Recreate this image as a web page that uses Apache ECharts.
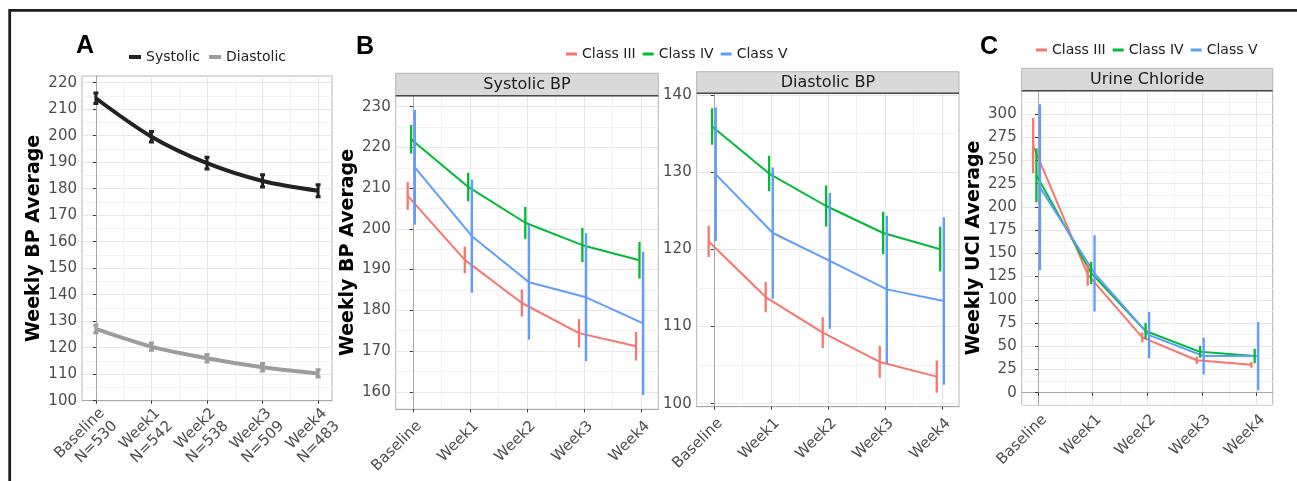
<!DOCTYPE html>
<html>
<head>
<meta charset="utf-8">
<title>Weekly blood pressure and urine chloride</title>
<script src="https://cdn.jsdelivr.net/npm/echarts@6.0.0/dist/echarts.min.js"></script>
<style>
  html, body { margin: 0; padding: 0; background: #ffffff; }
  #chart { width: 1297px; height: 481px; }
</style>
</head>
<body>
<div id="chart"></div>
<script>
// ---- data ----
const categories = ['Baseline', 'Week1', 'Week2', 'Week3', 'Week4'];
const sampleSizes = ['N=530', 'N=542', 'N=538', 'N=509', 'N=483'];
const classNames = ['Class III', 'Class IV', 'Class V'];

// A: whole cohort
const systolicMean = [214.1, 199.6, 189.6, 182.9, 179.2];
const systolicErr = [2.0, 2.0, 2.2, 2.3, 2.3];
const diastolicMean = [127.1, 120.4, 116.0, 112.6, 110.3];
const diastolicErr = [1.5, 1.4, 1.4, 1.4, 1.4];

// B: systolic BP by class
const sysClassIII = [208.1, 192.4, 181.8, 174.4, 171.2];
const sysClassIIIErr = [3.4, 3.3, 3.3, 3.5, 3.5];
const sysClassIV = [222.0, 210.3, 201.5, 196.0, 192.3];
const sysClassIVErr = [3.5, 3.5, 3.9, 4.2, 4.5];
const sysClassV = [215.1, 198.2, 186.9, 183.2, 176.8];
const sysClassVErr = [14.1, 13.9, 14.1, 15.7, 17.6];

// B: diastolic BP by class
const diaClassIII = [121.0, 113.8, 109.2, 105.4, 103.5];
const diaClassIIIErr = [2.0, 1.95, 2.0, 2.05, 2.1];
const diaClassIV = [135.9, 129.8, 125.6, 122.1, 120.0];
const diaClassIVErr = [2.35, 2.3, 2.65, 2.75, 2.9];
const diaClassV = [129.7, 122.1, 118.5, 114.8, 113.3];
const diaClassVErr = [8.65, 8.5, 8.8, 9.55, 10.85];

// C: urine chloride by class
const uclClassIII = [266.0, 127.0, 59.6, 35.0, 30.0];
const uclClassIIIErr = [29.5, 12.0, 5.3, 4.0, 3.0];
const uclClassIV = [234.0, 129.0, 66.4, 44.0, 39.5];
const uclClassIVErr = [29.0, 12.0, 8.6, 6.3, 7.9];
const uclClassV = [221.0, 128.5, 62.0, 39.5, 39.5];
const uclClassVErr = [89.3, 41.0, 25.0, 20.0, 36.7];

// tick labels
const yTicksA = [100, 110, 120, 130, 140, 150, 160, 170, 180, 190, 200, 210, 220];
const yTicksSys = [160, 170, 180, 190, 200, 210, 220, 230];
const yTicksDia = [100, 110, 120, 130, 140];
const yTicksUcl = [0, 25, 50, 75, 100, 125, 150, 175, 200, 225, 250, 275, 300];

// ---- styling ----
const classColors = ['#F8766D', '#00BA38', '#619CFF'];
const dodge = [-0.09, -0.03, 0.035];
const TICK_FONT = '"DejaVu Sans", sans-serif';
const TITLE_FONT = '"DejaVu Sans", sans-serif';
const MAJOR_GRID = '#e6e6e6';
const MINOR_GRID = '#f2f2f2';

const panels = [
  { grid: { left: 82, top: 76, width: 250, height: 324.7 }, x: [-0.25, 4.25], y: [100, 222.5], yTicks: yTicksA,
    yName: 'Weekly BP Average', twoLine: true, labelMargin: 4 },
  { grid: { left: 395.7, top: 95.7, width: 262.6, height: 313.6 }, x: [-0.3, 4.3], y: [155.7, 232.7], yTicks: yTicksSys,
    yName: 'Weekly BP Average', strip: 'Systolic BP', stripTop: 73.3, labelMargin: 8 },
  { grid: { left: 696.7, top: 93.3, width: 262.3, height: 313.4 }, x: [-0.3, 4.3], y: [99.6, 140.2], yTicks: yTicksDia,
    yName: '', strip: 'Diastolic BP', stripTop: 71.7, labelMargin: 8 },
  { grid: { left: 1021.7, top: 90.7, width: 251, height: 314.3 }, x: [-0.3, 4.3], y: [-13.2, 325], yTicks: yTicksUcl,
    yName: 'Weekly UCl Average', strip: 'Urine Chloride', stripTop: 68.3, labelMargin: 6 }
];

function midpoints(ticks, lo, hi) {
  const step = ticks[1] - ticks[0];
  const out = [];
  for (let v = ticks[0] - step / 2; v <= ticks[ticks.length - 1] + step / 2 + 1e-9; v += step) {
    if (v >= lo && v <= hi) out.push(+v.toFixed(4));
  }
  return out;
}

const grids = [], xAxes = [], yAxes = [], graphics = [];
const catPos = categories.map((_, i) => i);

panels.forEach((p, gi) => {
  grids.push(Object.assign({ show: true, borderColor: '#b5b5b5', borderWidth: 1, backgroundColor: '#ffffff',
    containLabel: false, outerBoundsMode: 'none' }, p.grid));

  xAxes.push({
    gridIndex: gi, type: 'value', position: 'bottom', min: p.x[0], max: p.x[1],
    axisLine: { show: true, lineStyle: { color: '#a6a6a6', width: 1 } },
    axisTick: { show: true, customValues: catPos, length: 3, lineStyle: { color: '#333333' } },
    axisLabel: {
      customValues: catPos, rotate: 45, align: 'right', verticalAlign: 'top', margin: p.labelMargin,
      fontFamily: TICK_FONT, fontSize: 15, color: '#4d4d4d', lineHeight: 18,
      formatter: v => {
        const i = Math.round(v);
        return p.twoLine ? categories[i] + '\n' + sampleSizes[i] : categories[i];
      }
    },
    splitLine: { show: true, lineStyle: { color: MAJOR_GRID, width: 1 } }
  });
  xAxes.push({
    gridIndex: gi, type: 'value', position: 'top', min: p.x[0], max: p.x[1],
    axisLine: { show: false },
    axisTick: { show: false, customValues: midpoints(catPos, p.x[0], p.x[1]) },
    axisLabel: { show: false },
    splitLine: { show: true, lineStyle: { color: MINOR_GRID, width: 1 } }
  });

  yAxes.push({
    gridIndex: gi, type: 'value', position: 'left', min: p.y[0], max: p.y[1],
    name: p.yName, nameLocation: 'middle', nameGap: 38, nameRotate: 90,
    nameTextStyle: { fontFamily: TITLE_FONT, fontWeight: 'bold', fontSize: 19, color: '#000000' },
    axisLine: { show: true, lineStyle: { color: '#a6a6a6', width: 1 } },
    axisTick: { show: true, customValues: p.yTicks, length: 3, lineStyle: { color: '#333333' } },
    axisLabel: { customValues: p.yTicks, margin: 5, fontFamily: TICK_FONT, fontSize: 15, color: '#4d4d4d' },
    splitLine: { show: true, lineStyle: { color: MAJOR_GRID, width: 1 } }
  });
  yAxes.push({
    gridIndex: gi, type: 'value', position: 'right', min: p.y[0], max: p.y[1],
    axisLine: { show: false },
    axisTick: { show: false, customValues: midpoints(p.yTicks, p.y[0], p.y[1]) },
    axisLabel: { show: false },
    splitLine: { show: true, lineStyle: { color: MINOR_GRID, width: 1 } }
  });

  if (p.strip) {
    const g = p.grid, h = g.top - p.stripTop;
    graphics.push(
      { type: 'rect', silent: true, z: 10,
        shape: { x: g.left, y: p.stripTop, width: g.width, height: h },
        style: { fill: '#d9d9d9', stroke: '#b5b5b5', lineWidth: 1 } },
      { type: 'line', silent: true, z: 11,
        shape: { x1: g.left, y1: g.top, x2: g.left + g.width, y2: g.top },
        style: { stroke: '#4a4a4a', lineWidth: 1.5 } },
      { type: 'text', silent: true, z: 12, x: g.left + g.width / 2, y: p.stripTop + h / 2 + 0.5,
        style: { text: p.strip, fill: '#1a1a1a', font: '16px "DejaVu Sans", sans-serif',
          align: 'center', verticalAlign: 'middle', textAlign: 'center', textVerticalAlign: 'middle' } }
    );
  }
});

// frame round the figure (top and left edges)
graphics.push({ type: 'polyline', silent: true, z: 20,
  shape: { points: [[9.7, 481], [9.7, 10.4], [1297, 10.4]] },
  style: { stroke: '#1e1e1e', lineWidth: 2.8, fill: null } });

function lineSeries(name, gi, offset, mean, color, width, smooth) {
  return {
    type: 'line', name, xAxisIndex: 2 * gi, yAxisIndex: 2 * gi,
    data: mean.map((m, i) => [catPos[i] + offset, m]),
    smooth: smooth || false, showSymbol: false, symbol: 'none', silent: true, z: 3,
    color, lineStyle: { color, width }, itemStyle: { color }
  };
}

function errorSeries(name, gi, offset, mean, err, color, width, capUnits) {
  return {
    type: 'custom', name, xAxisIndex: 2 * gi, yAxisIndex: 2 * gi, silent: true, z: 4, clip: true,
    color, itemStyle: { color },
    data: mean.map((m, i) => [catPos[i] + offset, m - err[i], m + err[i]]),
    encode: { x: 0, y: [1, 2] },
    renderItem(params, api) {
      const x = api.value(0);
      const lo = api.coord([x, api.value(1)]);
      const hi = api.coord([x, api.value(2)]);
      const style = { stroke: color, lineWidth: width };
      const children = [{ type: 'line', shape: { x1: lo[0], y1: lo[1], x2: hi[0], y2: hi[1] }, style }];
      if (capUnits) {
        const half = api.size([capUnits, 0])[0] / 2;
        children.push({ type: 'line', shape: { x1: lo[0] - half, y1: lo[1], x2: lo[0] + half, y2: lo[1] }, style });
        children.push({ type: 'line', shape: { x1: hi[0] - half, y1: hi[1], x2: hi[0] + half, y2: hi[1] }, style });
      }
      return { type: 'group', children };
    }
  };
}

const series = [];
// A
series.push(lineSeries('Systolic', 0, 0, systolicMean, '#222222', 4, 0.3));
series.push(lineSeries('Diastolic', 0, 0, diastolicMean, '#9c9c9c', 4, 0.3));
series.push(errorSeries('Systolic', 0, 0, systolicMean, systolicErr, '#222222', 3, 0.09));
series.push(errorSeries('Diastolic', 0, 0, diastolicMean, diastolicErr, '#9c9c9c', 3, 0.09));

// B and C
const classPanels = [
  { gi: 1, means: [sysClassIII, sysClassIV, sysClassV], errs: [sysClassIIIErr, sysClassIVErr, sysClassVErr] },
  { gi: 2, means: [diaClassIII, diaClassIV, diaClassV], errs: [diaClassIIIErr, diaClassIVErr, diaClassVErr] },
  { gi: 3, means: [uclClassIII, uclClassIV, uclClassV], errs: [uclClassIIIErr, uclClassIVErr, uclClassVErr] }
];
classPanels.forEach(cp => {
  classNames.forEach((nm, k) => {
    series.push(lineSeries(nm, cp.gi, dodge[k], cp.means[k], classColors[k], 2));
  });
  classNames.forEach((nm, k) => {
    series.push(errorSeries(nm, cp.gi, dodge[k], cp.means[k], cp.errs[k], classColors[k], 2.3, 0));
  });
});

const legendText = { fontFamily: TICK_FONT, fontSize: 14, color: '#222222' };
const letterStyle = { fontFamily: '"Liberation Sans", Arial, sans-serif', fontWeight: 'bold', fontSize: 25, color: '#000' };

const option = {
  animation: false,
  backgroundColor: '#ffffff',
  title: [
    { text: 'A', left: 76, top: 34, padding: 0, textStyle: letterStyle },
    { text: 'B', left: 356, top: 35, padding: 0, textStyle: letterStyle },
    { text: 'C', left: 980, top: 35, padding: 0, textStyle: letterStyle }
  ],
  legend: [
    { data: ['Systolic', 'Diastolic'], left: 129, top: 50, padding: 0, itemGap: 9,
      icon: 'rect', itemWidth: 12, itemHeight: 4, textStyle: legendText, selectedMode: false },
    { data: classNames, left: 566, top: 47, padding: 0, itemGap: 7,
      icon: 'rect', itemWidth: 11, itemHeight: 3, textStyle: legendText, selectedMode: false },
    { data: classNames, left: 1036, top: 43, padding: 0, itemGap: 7,
      icon: 'rect', itemWidth: 11, itemHeight: 3, textStyle: legendText, selectedMode: false }
  ],
  grid: grids,
  xAxis: xAxes,
  yAxis: yAxes,
  series,
  graphic: graphics
};

const chart = echarts.init(document.getElementById('chart'), null, { renderer: 'canvas' });
chart.setOption(option);
</script>
</body>
</html>
